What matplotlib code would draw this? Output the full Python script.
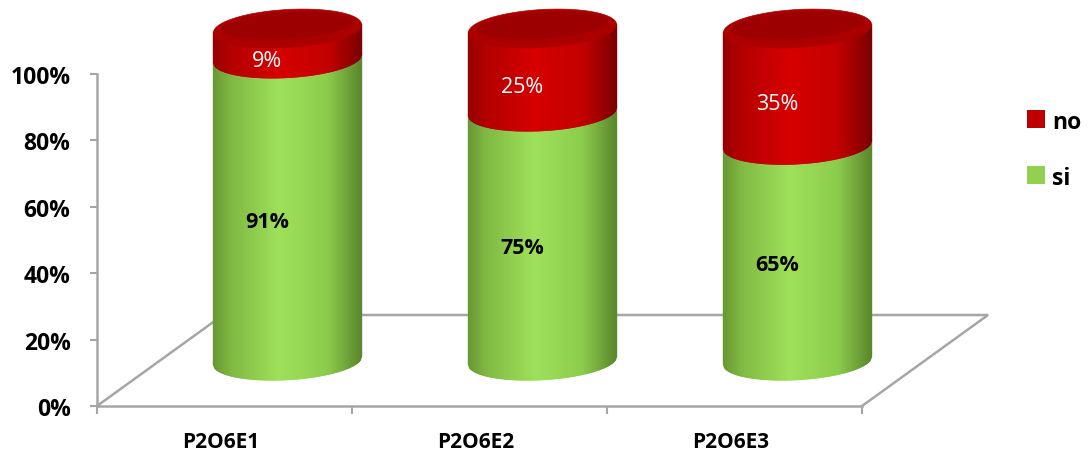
import matplotlib
matplotlib.use("Agg")
import matplotlib.pyplot as plt
import numpy as np
from matplotlib.collections import PolyCollection
from matplotlib.patches import Polygon, Rectangle
from matplotlib.ticker import PercentFormatter

categories = ["P2O6E1", "P2O6E2", "P2O6E3"]
si_values = [0.91, 0.75, 0.65]
no_values = [0.09, 0.25, 0.35]
series_names = ["no", "si"]
series_colors = ["#c00000", "#92d050"]

plt.rcParams["font.family"] = ["Open Sans", "DejaVu Sans"]

W, H = 1089, 452
fig = plt.figure(figsize=(W / 100, H / 100), dpi=100, facecolor="white")
ax = fig.add_axes([97 / W, 45 / H, 765 / W, 332 / H])
ax.set_xlim(0, 3)
ax.set_ylim(0, 1)

# pixel -> data scale factors
PX = 3 / 765
PY = 1 / 332

# floor depth and cylinder geometry
DX, DY = 126 * PX, 91 * PY
A = 74 * PX          # half width
B = 19 * PY          # ellipse half height
SH = 4 * PY          # ellipse tilt (right side higher)

grid_col = "#a6a6a6"
ax.plot([0, DX, 3 + DX, 3], [0, DY, DY, 0], color=grid_col, lw=1.8,
        clip_on=False, zorder=1, solid_joinstyle="miter")

for side in ["top", "right"]:
    ax.spines[side].set_visible(False)
for side in ["left", "bottom"]:
    ax.spines[side].set_color(grid_col)
    ax.spines[side].set_linewidth(1.8)

ax.set_yticks(np.arange(0, 1.01, 0.2))
ax.yaxis.set_major_formatter(PercentFormatter(1.0, decimals=0))
ax.tick_params(axis="y", length=5, width=1.5, color=grid_col, pad=14,
               labelsize=16.5)
for lab in ax.get_yticklabels():
    lab.set_fontweight("bold")
ax.set_xticks([0, 1, 2, 3])
ax.set_xticklabels([])
ax.tick_params(axis="x", length=6, width=1.5, color=grid_col)
for i, name in enumerate(categories):
    ax.text(i + 0.5 - 4 * PX, -41 * PY, name, ha="center", va="baseline",
            fontsize=15, fontweight="bold", color="black")

# shading profiles across the cylinder face (u from -1 to 1)
u_ctrl = [-1.0, -0.75, -0.1, 0.55, 1.0]
green_ctrl = np.array([[104, 150, 52], [128, 186, 66], [158, 224, 90],
                       [140, 204, 76], [92, 136, 44]]) / 255
red_ctrl = np.array([[150, 0, 0], [180, 0, 0], [214, 0, 0],
                     [196, 0, 0], [125, 0, 0]]) / 255


def shade(ctrl, u):
    return np.stack([np.interp(u, u_ctrl, ctrl[:, k]) for k in range(3)], axis=1)


def front(level, u):
    return level - B * np.sqrt(np.clip(1 - u ** 2, 0, None)) + SH * u


N = 120
u_edges = np.linspace(-1, 1, N + 1)
u_mid = 0.5 * (u_edges[:-1] + u_edges[1:])
t = np.linspace(0, 2 * np.pi, 200)

for i, (s, n) in enumerate(zip(si_values, no_values)):
    cx = i + 0.5 + DX / 2
    base = DY / 2
    segments = [(base, base + s, green_ctrl), (base + s, base + s + n, red_ctrl)]
    for lo, hi, ctrl in segments:
        polys = []
        for k in range(N):
            u0, u1 = u_edges[k], u_edges[k + 1]
            x0, x1 = cx + A * u0, cx + A * u1
            polys.append([(x0, front(lo, u0)), (x1, front(lo, u1)),
                          (x1, front(hi, u1)), (x0, front(hi, u0))])
        cols = shade(ctrl, u_mid)
        pc = PolyCollection(polys, facecolors=cols, edgecolors=cols,
                            linewidths=1.0, clip_on=False, zorder=3)
        ax.add_collection(pc)

    # top cap
    top = base + s + n
    uu = np.cos(t)
    cap = np.column_stack([cx + A * uu, top + B * np.sin(t) + SH * uu])
    ax.add_patch(Polygon(cap, closed=True, facecolor="#ac0000",
                         edgecolor="#ac0000", lw=0.5, clip_on=False, zorder=4))
    inner = np.column_stack([cx + 0.9 * A * uu,
                             top + 3 * PY + 0.7 * B * np.sin(t) + SH * uu])
    ax.add_patch(Polygon(inner, closed=True, facecolor="#9c0000",
                         edgecolor="none", clip_on=False, zorder=4))

    # value labels
    ax.text(cx - 20 * PX, base + s / 2 - 12 * PY, f"{s:.0%}", ha="center",
            va="center", fontsize=15.5, fontweight="bold", color="black", zorder=5)
    ax.text(cx - 20 * PX, base + s + n / 2 - 17 * PY, f"{n:.0%}", ha="center",
            va="center", fontsize=15.5, color="white", zorder=5)

# legend, drawn in figure pixels
for name, col, yc in zip(series_names, series_colors, [120, 176]):
    fig.patches.append(Rectangle((1027 / W, 1 - (yc + 9) / H), 18 / W, 18 / H,
                                 transform=fig.transFigure, facecolor=col,
                                 edgecolor="none"))
    fig.text(1052 / W, 1 - yc / H, name, ha="left", va="center_baseline",
             fontsize=16.5, fontweight="bold", color="black")

fig.savefig("out.png", dpi=100, facecolor="white")
